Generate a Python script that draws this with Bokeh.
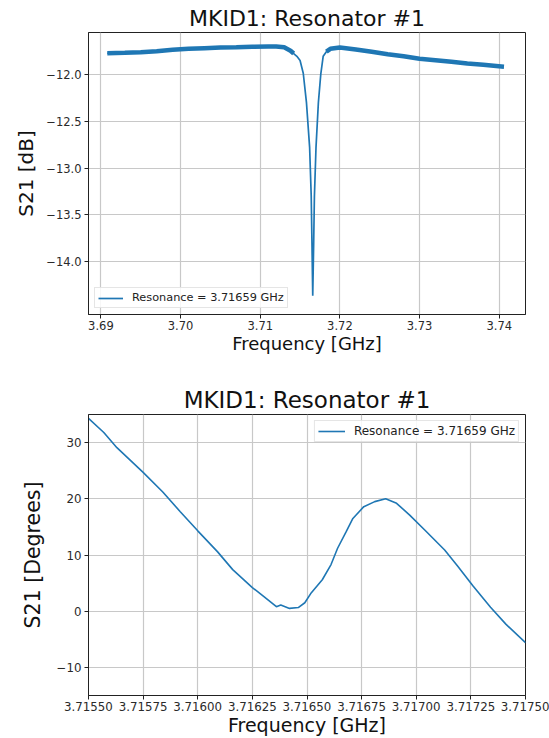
from bokeh.plotting import figure
from bokeh.layouts import column
from bokeh.models import FixedTicker, CustomJSTickFormatter, Range1d, Legend, LegendItem
from bokeh.embed import file_html
from bokeh.resources import INLINE

# ---------------- data ----------------
title_text = "MKID1: Resonator #1"
resonance_label = "Resonance = 3.71659 GHz"

freq_mag = [3.6908, 3.693, 3.695, 3.697, 3.699, 3.701, 3.703, 3.705, 3.707, 3.709,
            3.711, 3.712, 3.713, 3.7138, 3.7142, 3.7146, 3.715, 3.7154, 3.7158,
            3.7162, 3.7164, 3.7165, 3.71659, 3.7167, 3.7168, 3.717, 3.7173, 3.7176,
            3.7179, 3.7183, 3.7188, 3.72, 3.722, 3.724, 3.726, 3.728, 3.73, 3.732,
            3.734, 3.736, 3.738, 3.7406]
s21_mag_db = [-11.777, -11.772, -11.766, -11.755, -11.74, -11.73, -11.723, -11.716,
              -11.713, -11.709, -11.705, -11.705, -11.713, -11.75, -11.78, -11.81,
              -11.854, -11.99, -12.3, -12.78, -13.3, -13.84, -14.36, -13.84, -13.3,
              -12.78, -12.3, -12.0, -11.81, -11.76, -11.73, -11.715, -11.737, -11.762,
              -11.787, -11.81, -11.836, -11.851, -11.868, -11.886, -11.9, -11.92]

freq_phase = [3.7155, 3.71557, 3.71563, 3.71575, 3.71584, 3.71592, 3.716, 3.71609,
              3.71616, 3.71625, 3.7163, 3.71636, 3.71638, 3.71642, 3.71646, 3.71649,
              3.71652, 3.71657, 3.71661, 3.71664, 3.71668, 3.71671, 3.71676, 3.71681,
              3.71686, 3.71691, 3.71697, 3.71704, 3.71713, 3.71719, 3.71726, 3.71734,
              3.71741, 3.7175]
s21_phase_deg = [34.3, 31.8, 29.1, 24.7, 21.2, 17.7, 14.3, 10.6, 7.4, 4.2, 2.7, 0.8,
                 1.1, 0.5, 0.65, 1.5, 3.3, 5.6, 8.3, 11.2, 14.2, 16.5, 18.6, 19.5,
                 20.0, 19.2, 17.1, 14.4, 10.9, 8.0, 4.5, 0.7, -2.3, -5.6]

mag_xticks = [3.69, 3.70, 3.71, 3.72, 3.73, 3.74]
mag_yticks = [-14.0, -13.5, -13.0, -12.5, -12.0]
phase_xticks = [3.7155, 3.71575, 3.716, 3.71625, 3.7165, 3.71675, 3.717, 3.71725, 3.7175]
phase_yticks = [-10, 0, 10, 20, 30]

# ---------------- style ----------------
FONT = "DejaVu Sans"
BLUE = "#1f77b4"
GRID = "#c8c8c8"


def style(p, title_size, xlabel_size, ylabel_size, tick_size, ylabel_standoff):
    p.title.text_font = FONT
    p.title.text_font_size = title_size
    p.title.text_font_style = "normal"
    p.title.align = "center"
    p.title.text_color = "#111111"
    p.title.standoff = 3
    p.outline_line_color = "#222222"
    p.outline_line_width = 1
    p.background_fill_color = "white"
    p.border_fill_color = "white"
    for ax in (p.xaxis[0], p.yaxis[0]):
        ax.axis_line_color = "#222222"
        ax.major_tick_out = 4
        ax.major_tick_in = 0
        ax.minor_tick_out = 0
        ax.minor_tick_in = 0
        ax.major_tick_line_color = "#222222"
        ax.major_label_text_font = FONT
        ax.major_label_text_font_size = tick_size
        ax.major_label_text_color = "#2a2a2a"
        ax.axis_label_text_font = FONT
        ax.axis_label_text_font_style = "normal"
        ax.axis_label_text_color = "#111111"
    p.xaxis[0].axis_label_text_font_size = xlabel_size
    p.yaxis[0].axis_label_text_font_size = ylabel_size
    p.xaxis[0].major_label_standoff = 2
    p.xaxis[0].axis_label_standoff = 0
    p.yaxis[0].major_label_standoff = 3
    p.yaxis[0].axis_label_standoff = ylabel_standoff
    for g in (p.xgrid[0], p.ygrid[0]):
        g.grid_line_color = GRID
        g.grid_line_width = 1.2


def style_legend(leg, font_size, glyph_w):
    leg.label_text_font = FONT
    leg.label_text_font_size = font_size
    leg.label_text_color = "#222222"
    leg.border_line_color = "#cccccc"
    leg.border_line_width = 1
    leg.background_fill_alpha = 0.85
    leg.padding = 3
    leg.spacing = 0
    leg.label_height = 12
    leg.glyph_height = 12
    leg.glyph_width = glyph_w
    leg.label_standoff = 9
    leg.margin = 6


# ---------------- top: magnitude ----------------
p1 = figure(width=549, height=369, output_backend="svg", toolbar_location=None,
            title=title_text,
            x_range=Range1d(3.68844, 3.7433), y_range=Range1d(-14.56, -11.556),
            min_border_left=87, min_border_right=22, min_border_top=32,
            min_border_bottom=55)
style(p1, "22px", "18px", "20px", "11.5px", 5)
p1.xaxis.axis_label = "Frequency [GHz]"
p1.yaxis.axis_label = "S21 [dB]"
p1.xaxis.ticker = FixedTicker(ticks=mag_xticks)
p1.yaxis.ticker = FixedTicker(ticks=mag_yticks)
p1.xaxis.formatter = CustomJSTickFormatter(code="return tick.toFixed(2);")
p1.yaxis.formatter = CustomJSTickFormatter(code="return tick.toFixed(1).replace('-', '\u2212');")

# noisy band in the flat regions (thicker stroke), thin trace through the dip
flat = [i for i, f in enumerate(freq_mag) if f <= 3.7142 or f >= 3.7183]
seg_left = [i for i in flat if freq_mag[i] <= 3.7142]
seg_right = [i for i in flat if freq_mag[i] >= 3.7183]
for seg in (seg_left, seg_right):
    p1.line([freq_mag[i] for i in seg], [s21_mag_db[i] for i in seg],
            line_color=BLUE, line_width=4.5)
r1 = p1.line(freq_mag, s21_mag_db, line_color=BLUE, line_width=1.7)
leg1 = Legend(items=[LegendItem(label=resonance_label, renderers=[r1])],
              location="bottom_left")
style_legend(leg1, "11.3px", 25)
p1.add_layout(leg1)

# ---------------- bottom: phase ----------------
p2 = figure(width=549, height=369, output_backend="svg", toolbar_location=None,
            title=title_text,
            x_range=Range1d(3.7155, 3.7175), y_range=Range1d(-15, 35),
            min_border_left=88, min_border_right=24, min_border_top=45,
            min_border_bottom=39)
style(p2, "23px", "19px", "20.5px", "11.8px", 9)
p2.xaxis.axis_label = "Frequency [GHz]"
p2.yaxis.axis_label = "S21 [Degrees]"
p2.xaxis.ticker = FixedTicker(ticks=phase_xticks)
p2.yaxis.ticker = FixedTicker(ticks=phase_yticks)
p2.xaxis.formatter = CustomJSTickFormatter(code="return tick.toFixed(5);")
p2.yaxis.formatter = CustomJSTickFormatter(code="return tick.toFixed(0).replace('-', '\u2212');")
r2 = p2.line(freq_phase, s21_phase_deg, line_color=BLUE, line_width=1.6)
leg2 = Legend(items=[LegendItem(label=resonance_label, renderers=[r2])],
              location="top_right")
style_legend(leg2, "12px", 27)
p2.add_layout(leg2)

layout = column(p1, p2, spacing=0)
open("out.html", "w").write(file_html(layout, INLINE))
